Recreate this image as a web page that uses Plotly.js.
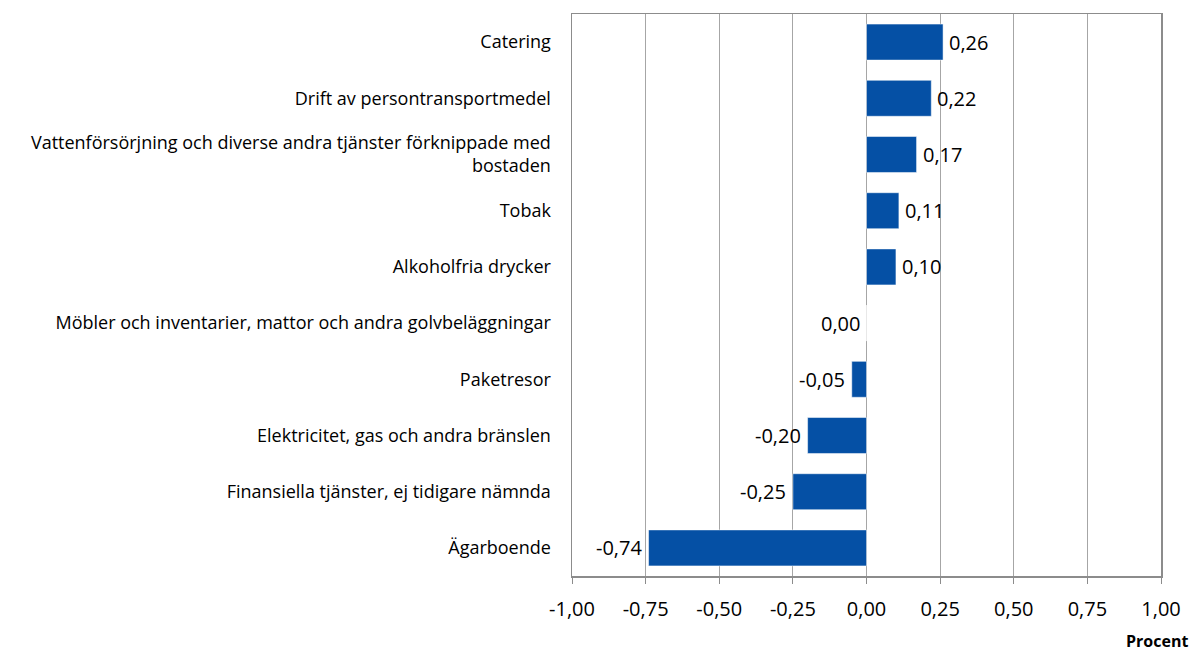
<!DOCTYPE html>
<html>
<head>
<meta charset="utf-8">
<script src="https://cdn.plot.ly/plotly-3.0.1.min.js"></script>
<style>html,body{margin:0;padding:0;background:#fff;}#chart{width:1194px;height:652px;}</style>
</head>
<body>
<div id="chart"></div>
<script>
var categories = [
  "Catering",
  "Drift av persontransportmedel",
  "Vattenförsörjning och diverse andra tjänster förknippade med<br>bostaden",
  "Tobak",
  "Alkoholfria drycker",
  "Möbler och inventarier, mattor och andra golvbeläggningar",
  "Paketresor",
  "Elektricitet, gas och andra bränslen",
  "Finansiella tjänster, ej tidigare nämnda",
  "Ägarboende"
];
var values = [0.26, 0.22, 0.17, 0.11, 0.10, 0.00, -0.05, -0.20, -0.25, -0.74];
var labels = ["0,26", "0,22", "0,17", "0,11", "0,10", "0,00", "-0,05", "-0,20", "-0,25", "-0,74"];
var tickVals = [-1, -0.75, -0.5, -0.25, 0, 0.25, 0.5, 0.75, 1];
var tickText = ["-1,00", "-0,75", "-0,50", "-0,25", "0,00", "0,25", "0,50", "0,75", "1,00"];

var FONT = "'Open Sans', 'Noto Sans', sans-serif";

var annotations = values.map(function (v, i) {
  var pos = v > 0;
  return {
    x: v, y: categories[i], xref: "x", yref: "y",
    text: labels[i], showarrow: false,
    xanchor: pos ? "left" : "right",
    xshift: pos ? 4 : -5,
    font: {family: FONT, size: 20, color: "#000"}
  };
});
annotations.push({
  text: "<b>Procent</b>", xref: "paper", yref: "paper",
  x: 1.05, y: -0.116, xanchor: "right", yanchor: "middle",
  showarrow: false, font: {family: FONT, size: 16, color: "#000"}
});

Plotly.newPlot("chart", [{
  type: "bar",
  orientation: "h",
  x: values,
  y: categories,
  marker: {color: "#0550A5", line: {color: "#ffffff", width: 0.5}},
  hoverinfo: "x+y"
}], {
  width: 1194, height: 652,
  margin: {l: 572, r: 33, t: 14, b: 76, pad: 0},
  paper_bgcolor: "#fff", plot_bgcolor: "#fff",
  bargap: 0.36,
  showlegend: false,
  font: {family: FONT, size: 18, color: "#000"},
  xaxis: {
    range: [-1, 1],
    tickmode: "array", tickvals: tickVals, ticktext: tickText,
    showgrid: true, gridcolor: "#a6a6a6", gridwidth: 1,
    zeroline: false,
    showline: true, linecolor: "#8c8c8c", linewidth: 1.5, mirror: true,
    ticks: "outside", ticklen: 6, tickcolor: "#8c8c8c", tickwidth: 1,
    ticklabelstandoff: 8,
    tickfont: {family: FONT, size: 20, color: "#000"}
  },
  yaxis: {
    type: "category",
    autorange: "reversed",
    showgrid: false, zeroline: false,
    showline: true, linecolor: "#8c8c8c", linewidth: 1.5, mirror: true,
    ticks: "", ticklabelstandoff: 16,
    tickfont: {family: FONT, size: 18, color: "#000"}
  },
  annotations: annotations
}, {displayModeBar: false, staticPlot: true});
</script>
</body>
</html>
